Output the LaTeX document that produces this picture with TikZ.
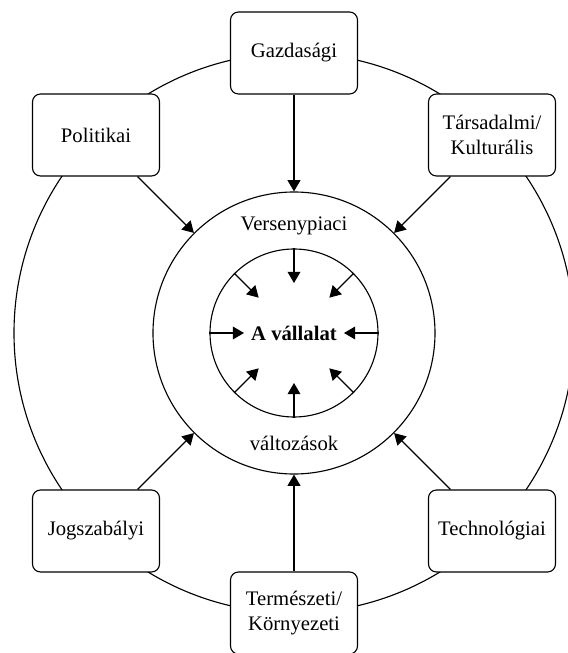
\documentclass[tikz,border=0pt]{standalone}
\usepackage{fontspec}
\setmainfont{Liberation Serif}
\usetikzlibrary{arrows.meta}

\begin{document}
\begin{tikzpicture}[
  font = \fontsize{14.7}{17.7}\selectfont,
  line width = 0.8pt,
  factor/.style = {draw, rounded corners = 0.2cm, fill = white, align = center, minimum width = 3.175cm, minimum height = 2.05cm, inner sep = 0pt},
  ring/.style = {draw, circle, inner sep = 0pt},
  arr/.style = {-{Triangle[length = 0.28cm, width = 0.32cm]}}
]
\useasboundingbox (0, 0) rectangle (14.2, 16.325);
%\draw[very thin, color = gray](0, 0) grid (14, 16);
\node [ring, minimum size = 14cm] (env) at (7.35, 8) {};
\node [ring, minimum size = 7.05cm] (market) at (7.35, 8) {};
\node [ring, minimum size = 4.2cm, font = \fontsize{14.7}{17.7}\selectfont\bfseries] (firm) at (7.35, 8) {A vállalat};
\node (vp) at (7.35, 10.67) {Versenypiaci};
\node (valt) at (7.35, 5.24) {változások};
% environment boxes
\node [factor] (gazd) at (7.35, 15.0) {Gazdasági};
\node [factor] (pol) at (2.4, 12.95) {Politikai};
\node [factor] (tars) at (12.3, 12.95) {Társadalmi/\\Kulturális};
\node [factor] (jog) at (2.4, 3.05) {Jogszabályi};
\node [factor] (tech) at (12.3, 3.05) {Technológiai};
\node [factor] (term) at (7.35, 1.0) {Természeti/\\Környezeti};
\draw [arr] (gazd) -- (market);
\draw [arr] (pol) -- (market);
\draw [arr] (tars) -- (market);
\draw [arr] (jog) -- (market);
\draw [arr] (tech) -- (market);
\draw [arr] (term) -- (market);
% inner arrows
\draw [arr, shorten >= 1.25cm] (firm.90) -- (firm.center);
\draw [arr, shorten >= 1.25cm] (firm.45) -- (firm.center);
\draw [arr, shorten >= 1.25cm] (firm.0) -- (firm.center);
\draw [arr, shorten >= 1.25cm] (firm.-45) -- (firm.center);
\draw [arr, shorten >= 1.25cm] (firm.-90) -- (firm.center);
\draw [arr, shorten >= 1.25cm] (firm.-135) -- (firm.center);
\draw [arr, shorten >= 1.25cm] (firm.180) -- (firm.center);
\draw [arr, shorten >= 1.25cm] (firm.135) -- (firm.center);
\end{tikzpicture}
\end{document}
